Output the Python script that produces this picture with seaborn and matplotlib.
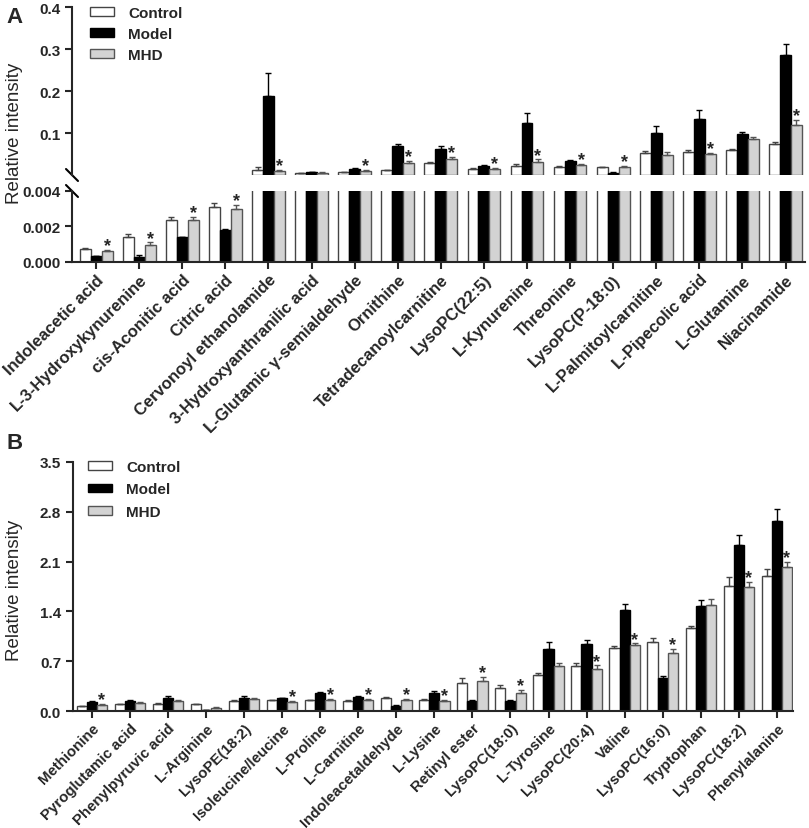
import numpy as np
import pandas as pd
import matplotlib
matplotlib.use("Agg")
import matplotlib.pyplot as plt
from matplotlib.patches import Patch
from matplotlib.ticker import FormatStrFormatter
import seaborn as sns

groups = ["Control", "Model", "MHD"]
fills = {"Control": "#ffffff", "Model": "#000000", "MHD": "#d3d3d3"}
edges = {"Control": "#444444", "Model": "#000000", "MHD": "#555555"}

# ---- panel A ----
a_names = ["Indoleacetic acid", "L-3-Hydroxykynurenine", "cis-Aconitic acid", "Citric acid",
           "Cervonoyl ethanolamide", "3-Hydroxyanthranilic acid", "L-Glutamic γ-semialdehyde",
           "Ornithine", "Tetradecanoylcarnitine", "LysoPC(22:5)", "L-Kynurenine", "Threonine",
           "LysoPC(P-18:0)", "L-Palmitoylcarnitine", "L-Pipecolic acid", "L-Glutamine", "Niacinamide"]
a_control = [0.00074, 0.0014, 0.00236, 0.00307, 0.012, 0.0045, 0.007, 0.011, 0.029, 0.015,
             0.021, 0.019, 0.019, 0.052, 0.054, 0.060, 0.075]
a_model = [0.00032, 0.0003, 0.00138, 0.0018, 0.187, 0.007, 0.015, 0.069, 0.062, 0.022,
           0.125, 0.033, 0.005, 0.100, 0.134, 0.097, 0.286]
a_mhd = [0.0006, 0.00097, 0.00236, 0.0030, 0.009, 0.005, 0.010, 0.029, 0.037, 0.015,
         0.032, 0.024, 0.019, 0.047, 0.050, 0.085, 0.120]
a_control_err = [0.00007, 0.0002, 0.00019, 0.00028, 0.006, 0.0005, 0.001, 0.002, 0.003, 0.001,
                 0.004, 0.002, 0.001, 0.004, 0.006, 0.003, 0.004]
a_model_err = [0.00002, 0.0001, 0.00004, 0.00007, 0.055, 0.001, 0.002, 0.005, 0.007, 0.002,
               0.023, 0.003, 0.001, 0.016, 0.021, 0.006, 0.025]
a_mhd_err = [0.00006, 0.00013, 0.0002, 0.0002, 0.004, 0.001, 0.002, 0.005, 0.005, 0.002,
             0.005, 0.002, 0.002, 0.008, 0.002, 0.006, 0.010]
a_star = [1, 1, 1, 1, 1, 0, 1, 1, 1, 1, 1, 1, 1, 0, 1, 0, 1]

# ---- panel B ----
b_names = ["Methionine", "Pyroglutamic acid", "Phenylpyruvic acid", "L-Arginine", "LysoPE(18:2)",
           "Isoleucine/leucine", "L-Proline", "L-Carnitine", "Indoleacetaldehyde", "L-Lysine",
           "Retinyl ester", "LysoPC(18:0)", "L-Tyrosine", "LysoPC(20:4)", "Valine", "LysoPC(16:0)",
           "Tryptophan", "LysoPC(18:2)", "Phenylalanine"]
b_control = [0.07, 0.094, 0.10, 0.094, 0.14, 0.15, 0.15, 0.14, 0.19, 0.16,
             0.40, 0.33, 0.50, 0.63, 0.88, 0.97, 1.17, 1.76, 1.90]
b_model = [0.13, 0.14, 0.19, 0.01, 0.19, 0.18, 0.25, 0.20, 0.07, 0.25,
           0.14, 0.14, 0.87, 0.94, 1.42, 0.47, 1.48, 2.34, 2.67]
b_mhd = [0.09, 0.11, 0.14, 0.04, 0.17, 0.13, 0.16, 0.16, 0.16, 0.14,
         0.42, 0.25, 0.63, 0.59, 0.93, 0.82, 1.49, 1.74, 2.03]
b_control_err = [0.005, 0.01, 0.01, 0.005, 0.01, 0.01, 0.01, 0.01, 0.01, 0.01,
                 0.06, 0.03, 0.03, 0.04, 0.04, 0.06, 0.02, 0.13, 0.09]
b_model_err = [0.01, 0.01, 0.02, 0.005, 0.02, 0.01, 0.02, 0.01, 0.01, 0.03,
               0.02, 0.01, 0.10, 0.06, 0.085, 0.02, 0.08, 0.14, 0.17]
b_mhd_err = [0.01, 0.01, 0.01, 0.01, 0.01, 0.01, 0.01, 0.01, 0.01, 0.01,
             0.06, 0.05, 0.04, 0.05, 0.02, 0.05, 0.08, 0.08, 0.06]
b_star = [1, 0, 0, 0, 0, 1, 1, 1, 1, 1, 1, 1, 0, 1, 1, 1, 0, 1, 1]

sns.set_style("ticks")
plt.rcParams["font.family"] = ["Liberation Sans", "DejaVu Sans"]
plt.rcParams["axes.linewidth"] = 1.5


def draw_bars(ax, names, vals, errs, stars, width, star_mask, hide_below=None):
    df = pd.DataFrame({
        "metabolite": names * 3,
        "group": np.repeat(groups, len(names)),
        "value": np.concatenate(vals),
    })
    sns.barplot(data=df, x="metabolite", y="value", hue="group", order=names,
                hue_order=groups, palette=fills, saturation=1, errorbar=None,
                width=width, linewidth=1, legend=False, ax=ax)
    for cont, g, v, e in zip(ax.containers, groups, vals, errs):
        v = np.asarray(v, float)
        e = np.asarray(e, float)
        xs = []
        for bar in cont:
            bar.set_edgecolor(edges[g])
            xs.append(bar.get_x() + bar.get_width() / 2)
            if hide_below is not None and bar.get_height() < hide_below:
                bar.set_visible(False)
        show = np.ones(len(v), bool) if hide_below is None else v >= hide_below
        xs = np.asarray(xs)
        ax.errorbar(xs[show], v[show], yerr=[np.zeros(show.sum()), e[show]], fmt="none",
                    ecolor=edges[g], elinewidth=1, capsize=2.5, capthick=1)
        if g == "MHD":
            for x, y, err, s, m in zip(xs, v, e, stars, star_mask):
                if s and m:
                    ax.annotate("*", (x, y + err), xytext=(0, -3), textcoords="offset points",
                                ha="center", va="bottom", fontsize=13, fontweight="bold")


def style_axis(ax):
    sns.despine(ax=ax)
    ax.tick_params(axis="both", length=5, width=1.5, labelsize=11)
    ax.tick_params(axis="x", pad=2)
    ax.set_xlabel("")
    ax.set_ylabel("")


fig = plt.figure(figsize=(8.09, 8.29), dpi=100)

# panel A, broken axis
ax_top = fig.add_axes([0.089, 0.7877, 0.906, 0.2026])
ax_low = fig.add_axes([0.089, 0.6828, 0.906, 0.0856])
a_vals = [a_control, a_model, a_mhd]
a_errs = [a_control_err, a_model_err, a_mhd_err]
top_mask = [v > 0.004 for v in a_mhd]
low_mask = [v + e < 0.004 for v, e in zip(a_mhd, a_mhd_err)]
draw_bars(ax_top, a_names, a_vals, a_errs, a_star, 0.76, top_mask, hide_below=0.004)
draw_bars(ax_low, a_names, a_vals, a_errs, a_star, 0.76, low_mask)
for ax in (ax_top, ax_low):
    ax.set_xlim(-0.56, 16.45)
    style_axis(ax)
ax_top.set_ylim(0, 0.4)
ax_top.set_yticks([0.1, 0.2, 0.3, 0.4])
ax_top.yaxis.set_major_formatter(FormatStrFormatter("%.1f"))
ax_top.spines["bottom"].set_visible(False)
ax_top.tick_params(axis="x", bottom=False, labelbottom=False)
ax_low.set_ylim(0, 0.004)
ax_low.set_yticks([0, 0.002, 0.004])
ax_low.yaxis.set_major_formatter(FormatStrFormatter("%.3f"))
ax_low.set_xticks(range(len(a_names)))
ax_low.set_xticklabels(a_names, rotation=45, ha="right", rotation_mode="anchor",
                       fontsize=12, fontweight="bold")

# break marks on the left spine
kw = dict(color="black", lw=1.5, clip_on=False)
for ax, y in ((ax_top, 0), (ax_low, 1)):
    bbox = ax.get_position()
    dx = 6 / (bbox.width * 809)
    dy = 6 / (bbox.height * 829)
    ax.plot([-dx, dx], [y + dy, y - dy], transform=ax.transAxes, **kw)

handles = [Patch(facecolor=fills[g], edgecolor=edges[g], linewidth=1, label=g) for g in groups]
leg_kw = dict(loc="upper left", bbox_transform=fig.transFigure, frameon=False,
              handlelength=1.6, handleheight=0.5, handletextpad=0.9, borderpad=0,
              borderaxespad=0, prop={"size": 11, "weight": "bold"})
ax_top.legend(handles=handles, bbox_to_anchor=(90 / 809, 1 - 7 / 829), labelspacing=0.45,
              **leg_kw)

# panel B
ax_b = fig.add_axes([0.090, 0.1411, 0.890, 0.3004])
b_vals = [b_control, b_model, b_mhd]
b_errs = [b_control_err, b_model_err, b_mhd_err]
draw_bars(ax_b, b_names, b_vals, b_errs, b_star, 0.8, [True] * len(b_names))
ax_b.set_xlim(-0.5, 18.42)
style_axis(ax_b)
ax_b.set_ylim(0, 3.5)
ax_b.set_yticks([0, 0.7, 1.4, 2.1, 2.8, 3.5])
ax_b.yaxis.set_major_formatter(FormatStrFormatter("%.1f"))
ax_b.set_xticks(range(len(b_names)))
ax_b.set_xticklabels(b_names, rotation=45, ha="right", rotation_mode="anchor",
                     fontsize=10.8, fontweight="bold")
ax_b.legend(handles=handles, bbox_to_anchor=(88 / 809, 1 - 461 / 829), labelspacing=0.55,
            **leg_kw)

for ax in (ax_top, ax_low, ax_b):
    for lab in ax.get_yticklabels():
        lab.set_fontweight("bold")

fig.text(0.018, 1 - 133 / 829, "Relative intensity", rotation=90, ha="center", va="center",
         fontsize=13.5)
fig.text(0.018, 1 - 590 / 829, "Relative intensity", rotation=90, ha="center", va="center",
         fontsize=13.5)
fig.text(0.008, 0.992, "A", fontsize=16, fontweight="bold", va="top")
fig.text(0.008, 0.478, "B", fontsize=16, fontweight="bold", va="top")

fig.savefig("out.png", dpi=100)
